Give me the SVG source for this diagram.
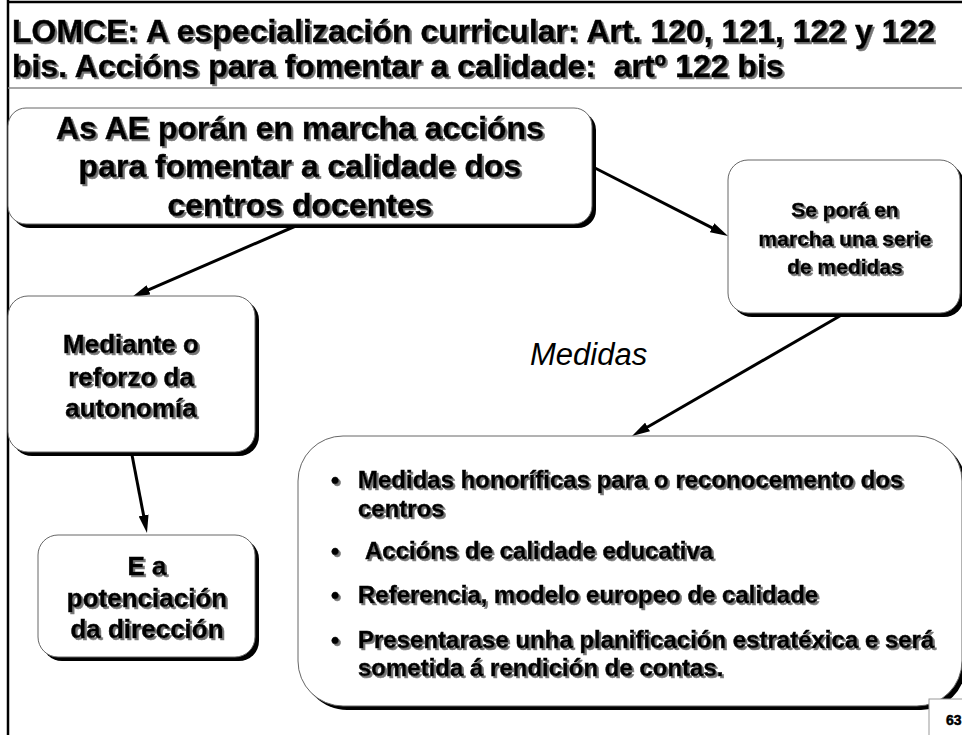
<svg xmlns="http://www.w3.org/2000/svg" width="962" height="735" viewBox="0 0 962 735">
<defs>
<style>
text{font-family:"Liberation Sans",Arial,sans-serif;fill:#000}
.b{font-weight:bold;stroke:#000;stroke-width:0.5}
.sh{filter:url(#ts)}
.title{font-size:32px}
.n1{font-size:32px;text-anchor:middle}
.n2{font-size:21px;text-anchor:middle}
.n3{font-size:26px;text-anchor:middle}
.li{font-size:24px}
.box{fill:#fff;stroke:#666;stroke-width:1}
.shadow{fill:#000}
.conn{stroke:#000;stroke-width:3;fill:none;marker-end:url(#ah)}
</style>
<filter id="ts" x="-5%" y="-20%" width="110%" height="150%">
<feOffset in="SourceAlpha" dx="2" dy="2" result="o"/>
<feGaussianBlur in="o" stdDeviation="0.6" result="b"/>
<feFlood flood-color="#777"/>
<feComposite in2="b" operator="in" result="s"/>
<feMerge><feMergeNode in="s"/><feMergeNode in="SourceGraphic"/></feMerge>
</filter>
<marker id="ah" viewBox="0 0 18 10" refX="9" refY="5" markerWidth="18" markerHeight="10" markerUnits="userSpaceOnUse" orient="auto">
<path d="M0,0 L18,5 L0,10 z" fill="#000"/>
</marker>
</defs>
<rect width="962" height="735" fill="#fff"/>
<g id="frame">
<line x1="8" y1="2" x2="962" y2="2" stroke="#000" stroke-width="2.5"/>
<line x1="8" y1="0" x2="8" y2="735" stroke="#000" stroke-width="2.5"/>
<line x1="8" y1="88" x2="962" y2="88" stroke="#888" stroke-width="1.5"/>
</g>
<g id="title" class="sh">
<text class="b title" x="12" y="42">LOMCE: A especialización curricular: Art. 120, 121, 122 y 122</text>
<text class="b title" x="12" y="77" xml:space="preserve">bis. Accións para fomentar a calidade:  artº 122 bis</text>
</g>
<g id="connectors">
<line class="conn" x1="298" y1="225" x2="140.3" y2="293.4"/>
<line class="conn" x1="593" y1="167" x2="720" y2="231.9"/>
<line class="conn" x1="132" y1="455" x2="145.3" y2="524.2"/>
<line class="conn" x1="845" y1="313" x2="639.8" y2="431.5"/>
</g>
<g id="node-ae">
<rect class="shadow" x="12" y="112" width="584" height="116" rx="18"/>
<rect class="box" x="8" y="108" width="584" height="116" rx="18"/>
<g class="sh">
<text class="b n1" x="300" y="139">As AE porán en marcha accións</text>
<text class="b n1" x="300" y="177">para fomentar a calidade dos</text>
<text class="b n1" x="300" y="216">centros docentes</text>
</g>
</g>
<g id="node-serie">
<rect class="shadow" x="732" y="164" width="232" height="153" rx="20"/>
<rect class="box" x="728" y="160" width="232" height="153" rx="20"/>
<g class="sh">
<text class="b n2" x="845" y="217">Se porá en</text>
<text class="b n2" x="845" y="245.5">marcha una serie</text>
<text class="b n2" x="845" y="274">de medidas</text>
</g>
</g>
<g id="node-autonomia">
<rect class="shadow" x="12" y="300" width="247" height="156" rx="20"/>
<rect class="box" x="8" y="296" width="247" height="156" rx="20"/>
<g class="sh">
<text class="b n3" x="131" y="353">Mediante o</text>
<text class="b n3" x="131" y="386">reforzo da</text>
<text class="b n3" x="131" y="417">autonomía</text>
</g>
</g>
<g id="node-direccion">
<rect class="shadow" x="42" y="539" width="217" height="122" rx="20"/>
<rect class="box" x="38" y="535" width="217" height="122" rx="20"/>
<g class="sh">
<text class="b n3" x="147" y="575">E a</text>
<text class="b n3" x="147" y="607">potenciación</text>
<text class="b n3" x="147" y="638">da dirección</text>
</g>
</g>
<g id="label-medidas">
<text x="530" y="365" font-size="31" font-style="italic">Medidas</text>
</g>
<g id="node-medidas">
<rect class="shadow" x="302" y="440" width="664" height="270" rx="45"/>
<rect class="box" x="298" y="436" width="664" height="270" rx="45"/>
<g class="sh">
<text class="b li" x="331" y="488">•</text>
<text class="b li" x="358" y="488">Medidas honoríficas para o reconocemento dos</text>
<text class="b li" x="358" y="517">centros</text>
<text class="b li" x="331" y="559">•</text>
<text class="b li" x="365" y="559">Accións de calidade educativa</text>
<text class="b li" x="331" y="603">•</text>
<text class="b li" x="358" y="603">Referencia, modelo europeo de calidade</text>
<text class="b li" x="331" y="648">•</text>
<text class="b li" x="358" y="648">Presentarase unha planificación estratéxica e será</text>
<text class="b li" x="358" y="676">sometida á rendición de contas.</text>
</g>
</g>
<g id="page-number">
<rect x="929" y="699" width="40" height="40" fill="#fff" stroke="#999" stroke-width="1"/>
<text class="b" x="946" y="725" font-size="14" stroke-width="0.2">63</text>
</g>
</svg>
